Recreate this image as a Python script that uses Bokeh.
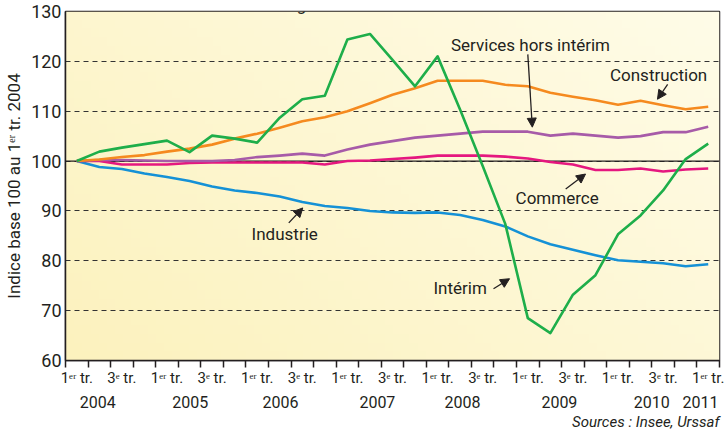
import numpy as np
from bokeh.plotting import figure
from bokeh.models import (FixedTicker, CustomJSTickFormatter, LinearAxis, Label, Title,
                          Arrow, NormalHead, Span, Range1d, ColumnDataSource)
from bokeh.core.properties import value
from bokeh.embed import file_html
from bokeh.resources import INLINE

# ---------------- data ----------------
quarter_labels = ["1ᵉʳ tr.", "", "3ᵉ tr.", ""] * 7 + ["1ᵉʳ tr."]
years = ["2004", "2005", "2006", "2007", "2008", "2009", "2010", "2011"]
year_pos = [0.93, 5.03, 9.03, 13.33, 17.1, 21.4, 25.5, 27.66]

interim = [100, 101.9, 102.7, 103.4, 104.1, 101.8, 105.1, 104.5, 103.7, 108.7, 112.4, 113.1,
           124.4, 125.5, 120.3, 115.0, 121.0, 110.3, 99.0, 87.4, 68.5, 65.5, 73.2, 77.1,
           85.3, 89.1, 94.1, 100.4, 103.5]
construction = [100, 100.3, 100.8, 101.2, 101.9, 102.5, 103.3, 104.5, 105.5, 106.7, 108.0, 108.8,
                110.0, 111.6, 113.3, 114.6, 116.1, 116.1, 116.1, 115.3, 115.0, 113.7, 112.9, 112.2,
                111.3, 112.1, 111.2, 110.4, 110.9]
services = [100, 100.2, 100.2, 100.1, 100, 100, 100, 100.2, 100.8, 101.1, 101.5, 101.1,
            102.3, 103.3, 104.0, 104.7, 105.1, 105.5, 105.9, 105.9, 105.9, 105.1, 105.5, 105.1,
            104.7, 105.0, 105.8, 105.8, 106.9]
commerce = [100, 100, 99.3, 99.3, 99.3, 99.6, 99.7, 99.7, 99.7, 99.7, 99.7, 99.3,
            100, 100.1, 100.4, 100.7, 101.1, 101.1, 101.1, 100.9, 100.5, 99.8, 99.3, 98.2,
            98.2, 98.5, 97.9, 98.3, 98.5]
industrie = [100, 98.8, 98.4, 97.5, 96.8, 96.0, 94.9, 94.1, 93.6, 92.9, 91.8, 91.0,
             90.6, 90.0, 89.7, 89.6, 89.7, 89.2, 88.2, 86.9, 84.9, 83.3, 82.2, 81.1,
             80.1, 79.8, 79.5, 78.9, 79.3]
qidx = list(range(len(interim)))

series_names = ["Industrie", "Commerce", "Services hors intérim", "Construction", "Intérim"]
series_colors = ["#1591D6", "#E5177F", "#A75BA8", "#F58A1F", "#1EAE4A"]

# annotation labels (text, x, y) and arrows (x0, y0, x1, y1)
anno_text = ["Services hors intérim", "Construction", "Commerce", "Intérim", "Industrie"]
anno_x = [20.12, 25.8, 21.3, 17.0, 9.22]
anno_y = [123.2, 117.2, 92.6, 74.6, 85.4]
arrows = [(20.0, 121.4, 20.2, 106.8),
          (26.2, 115.4, 25.75, 112.4),
          (21.68, 94.4, 22.56, 97.4),
          (18.48, 74.4, 19.19, 76.4),
          (9.4, 87.6, 10.02, 90.6)]

FONT = "Roboto"
TXT = "#231F20"

p = figure(width=725, height=430, output_backend="svg", toolbar_location=None,
           x_range=Range1d(-0.5, 28.5), y_range=Range1d(60, 130),
           min_border_left=65, min_border_right=6, min_border_top=11, min_border_bottom=69)
p.background_fill_color = "#FEF8D0"
p.border_fill_color = "white"
p.outline_line_color = "#231F20"
p.outline_line_width = 1.5

# background gradient
ny, nx = 40, 80
gx = np.linspace(0, 1, nx)[None, :]
gy = np.linspace(0, 1, ny)[:, None]
t = np.clip(0.6 * gx + 0.4 * gy, 0, 1)
c0 = np.array([252, 242, 190])
c1 = np.array([255, 252, 232])
img = np.zeros((ny, nx), dtype=np.uint32)
view = img.view(dtype=np.uint8).reshape((ny, nx, 4))
for k in range(3):
    view[:, :, k] = (c0[k] + (c1[k] - c0[k]) * t).astype(np.uint8)
view[:, :, 3] = 255
p.image_rgba(image=[img], x=-0.5, y=60, dw=29, dh=70, level="image")

# grid
p.xgrid.visible = False
p.ygrid.grid_line_color = "#333333"
p.ygrid.grid_line_dash = "5 4"
p.ygrid.grid_line_width = 1
p.add_layout(Span(location=100, dimension="width", line_color="#231F20", line_width=1.2, level="underlay"))

# y axis
p.yaxis.ticker = FixedTicker(ticks=list(range(60, 131, 10)))
p.yaxis.major_tick_out = 0
p.yaxis.major_tick_in = 0
p.yaxis.minor_tick_out = 0
p.yaxis.minor_tick_in = 0
p.yaxis.axis_line_color = "#231F20"
p.yaxis.axis_line_width = 1.5
p.yaxis.major_label_text_font = FONT
p.yaxis.major_label_text_font_size = "18px"
p.yaxis.major_label_text_color = TXT
p.yaxis.major_label_standoff = 4
p.yaxis.axis_label = "Indice base 100 au 1ᵉʳ tr. 2004"
p.yaxis.axis_label_text_font = FONT
p.yaxis.axis_label_text_font_size = "17px"
p.yaxis.axis_label_text_font_style = "normal"
p.yaxis.axis_label_text_color = TXT
p.yaxis.axis_label_standoff = 4

# x axis: quarters
p.xaxis.ticker = FixedTicker(ticks=qidx, minor_ticks=[i - 0.5 for i in range(len(qidx) + 1)])
p.xaxis.formatter = CustomJSTickFormatter(args=dict(labels=quarter_labels),
                                          code="return labels[Math.round(tick)] || '';")
p.xaxis.major_tick_out = 0
p.xaxis.major_tick_in = 0
p.xaxis.minor_tick_out = 7
p.xaxis.minor_tick_in = 0
p.xaxis.minor_tick_line_color = "#231F20"
p.xaxis.minor_tick_line_width = 1.5
p.xaxis.axis_line_color = "#231F20"
p.xaxis.axis_line_width = 1.5
p.xaxis.major_label_text_font = FONT
p.xaxis.major_label_text_font_size = "15px"
p.xaxis.major_label_text_color = TXT
p.xaxis.major_label_standoff = 1

# x axis: years
yr_axis = LinearAxis(ticker=FixedTicker(ticks=year_pos),
                     formatter=CustomJSTickFormatter(args=dict(labels=years), code="return labels[index];"),
                     axis_line_color=None, major_tick_line_color=None, minor_tick_line_color=None,
                     major_label_standoff=0, major_label_text_font=FONT,
                     major_label_text_font_size="16px", major_label_text_color=TXT)
p.add_layout(yr_axis, "below")

# source note, bottom right
p.add_layout(Title(text="Sources : Insee, Urssaf", align="right", text_font=FONT,
                   text_font_style="italic", text_font_size="15px", text_color=TXT,
                   standoff=0, text_line_height=0.9), "below")

# series
for name, col in zip(series_names, series_colors):
    vals = {"Industrie": industrie, "Commerce": commerce, "Services hors intérim": services,
            "Construction": construction, "Intérim": interim}[name]
    p.line(qidx, vals, line_color=col, line_width=2.6, line_join="round")

# annotation texts
src = ColumnDataSource(dict(x=anno_x, y=anno_y, t=anno_text))
p.text(x="x", y="y", text="t", source=src, text_font=value(FONT), text_font_size="17px",
       text_color=TXT, text_align="center", text_baseline="middle")
for (x0, y0, x1, y1) in arrows:
    p.add_layout(Arrow(end=NormalHead(size=9, fill_color=TXT, line_color=TXT, line_width=1),
                       x_start=x0, y_start=y0, x_end=x1, y_end=y1,
                       line_color=TXT, line_width=1.3))

# partly visible subtitle at the very top
p.add_layout(Label(x=302, y=356, x_units="screen", y_units="screen",
                   text="Données corrigées des variations saisonnières",
                   text_font=FONT, text_font_size="17px", text_color=TXT,
                   text_align="center", text_baseline="alphabetic"))

open("out.html", "w").write(file_html(p, INLINE))
